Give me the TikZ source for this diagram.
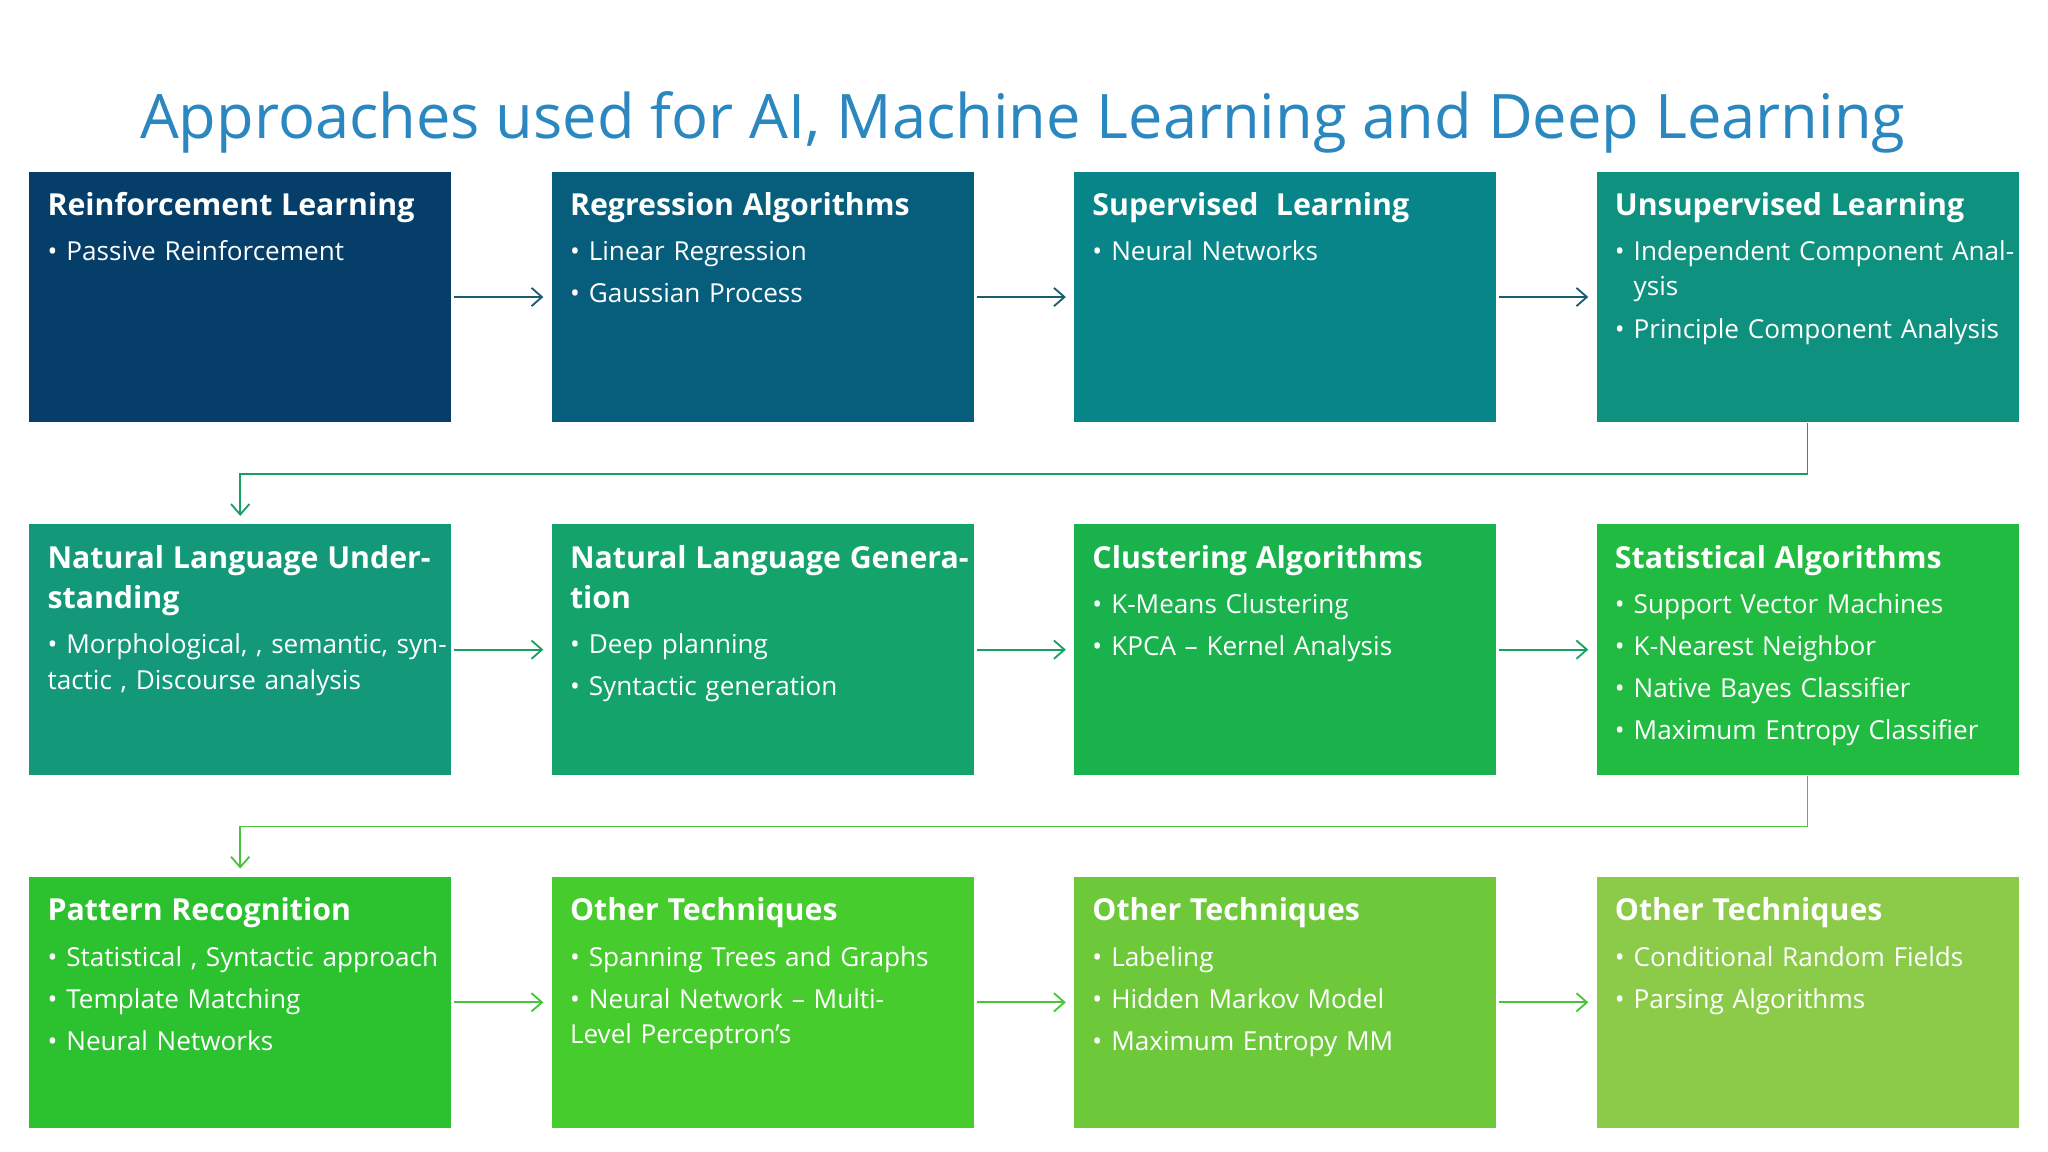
\documentclass[tikz,border=0pt]{standalone}
\usepackage{fontspec}
\setmainfont{Open Sans}
\usetikzlibrary{calc,arrows.meta}
\newcommand{\bitem}[1]{\par\vspace{2.6pt}\hangindent=7.2pt\hangafter=1\noindent\makebox[7.2pt][l]{•}#1}
\begin{document}
\begin{tikzpicture}[x=0.5pt,y=-0.5pt,
  box/.style={minimum width=161.5pt,minimum height=96pt,inner sep=0pt,anchor=north west,draw=none},
  txt/.style={anchor=north west,text width=155pt,align=left,inner sep=0pt,text=white,font=\fontsize{10}{13.5}\selectfont},
  hd/.style={},
  arr/.style={-{Straight Barb[length=4pt,width=7pt]},line width=0.7pt,shorten <=1pt,shorten >=3pt}]
\useasboundingbox (0,0) rectangle (1568,882);
\fill[white] (0,0) rectangle (1568,882);
\definecolor{c1}{HTML}{053E68}\definecolor{c2}{HTML}{075E7C}\definecolor{c3}{HTML}{088588}\definecolor{c4}{HTML}{0F917F}
\definecolor{c5}{HTML}{13997A}\definecolor{c6}{HTML}{14A36B}\definecolor{c7}{HTML}{1AB24C}\definecolor{c8}{HTML}{20BB40}
\definecolor{c9}{HTML}{2CC12E}\definecolor{c10}{HTML}{46CC2C}\definecolor{c11}{HTML}{6DC93A}\definecolor{c12}{HTML}{8CCB4A}
\definecolor{tc}{HTML}{2B87BF}
\definecolor{a1}{HTML}{1C5B72}\definecolor{a2}{HTML}{18A060}\definecolor{a3}{HTML}{46C43A}
\node[anchor=center,text=tc,font=\fontsize{23.5}{28}\selectfont] (title) at (783,94) {Approaches used for AI, Machine Learning and Deep Learning};
\foreach \n/\x/\y in {1/22/131,2/422/131,3/822/131,4/1222/131,5/22/401,6/422/401,7/822/401,8/1222/401,9/22/671,10/422/671,11/822/671,12/1222/671}
  \node[box,fill=c\n] (b\n) at (\x,\y) {};
\newcommand{\boxtext}[4]{\node[txt] (#2) at ($(#1.north west)+(14,16)$) {{\bfseries\fontsize{11.6}{15.5}\selectfont #3\par}\vspace{1.2pt}#4};}
\boxtext{b1}{t1}{Reinforcement Learning}{\bitem{Passive Reinforcement}}
\boxtext{b2}{t2}{Regression Algorithms}{\bitem{Linear Regression}\bitem{Gaussian Process}}
\boxtext{b3}{t3}{Supervised\ \ Learning}{\bitem{Neural Networks}}
\boxtext{b4}{t4}{Unsupervised Learning}{\bitem{Independent Component Analysis}\bitem{Principle Component Analysis}}
\boxtext{b5}{t5}{Natural Language Understanding}{\bitem{Morphological, , semantic, syntactic , Discourse analysis}}
\boxtext{b6}{t6}{Natural Language Generation}{\bitem{Deep planning}\bitem{Syntactic generation}}
\boxtext{b7}{t7}{Clustering Algorithms}{\bitem{K-Means Clustering}\bitem{KPCA -- Kernel Analysis}}
\boxtext{b8}{t8}{Statistical Algorithms}{\bitem{Support Vector Machines}\bitem{K-Nearest Neighbor}\bitem{Native Bayes Classifier}\bitem{Maximum Entropy Classifier}}
\boxtext{b9}{t9}{Pattern Recognition}{\bitem{Statistical , Syntactic approach}\bitem{Template Matching}\bitem{Neural Networks}}
\boxtext{b10}{t10}{Other Techniques}{\bitem{Spanning Trees and Graphs}\bitem{Neural Network -- Multi-\\Level Perceptron's}}
\boxtext{b11}{t11}{Other Techniques}{\bitem{Labeling}\bitem{Hidden Markov Model}\bitem{Maximum Entropy MM}}
\boxtext{b12}{t12}{Other Techniques}{\bitem{Conditional Random Fields}\bitem{Parsing Algorithms}}
\foreach \a/\b/\c in {1/2/a1,2/3/a1,3/4/a1,5/6/a2,6/7/a2,7/8/a2,9/10/a3,10/11/a3,11/12/a3}
  \draw[arr,draw=\c] (b\a.east) -- (b\b.west);
\draw[arr,draw=a2,shorten <=0pt] (b4.south) -- ++(0,39) -| (b5.north);
\draw[arr,draw=a3,shorten <=0pt] (b8.south) -- ++(0,39) -| (b9.north);
\end{tikzpicture}
\end{document}
